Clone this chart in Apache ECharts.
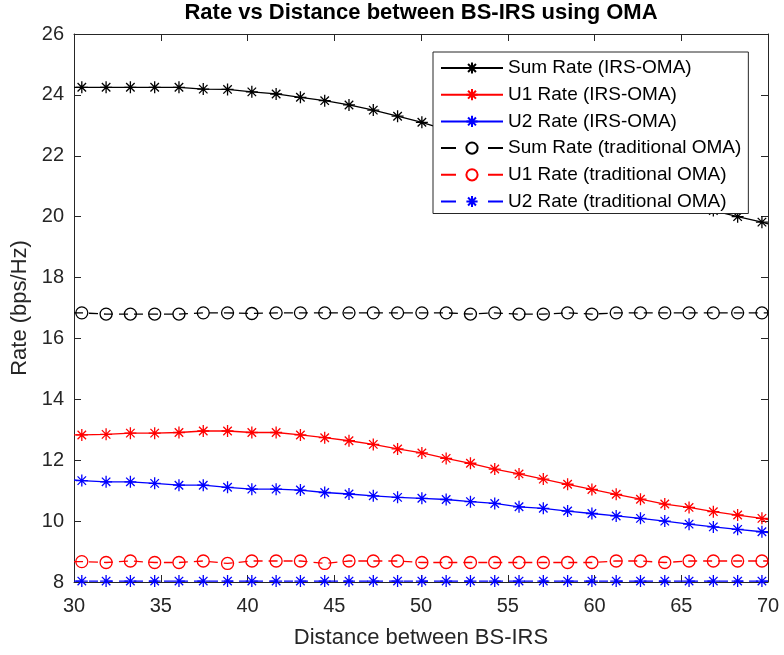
<!DOCTYPE html>
<html>
<head>
<meta charset="utf-8">
<script src="https://cdn.jsdelivr.net/npm/echarts@6/dist/echarts.min.js"></script>
<style>
  html, body { margin: 0; padding: 0; background: #fff; }
  #main { width: 784px; height: 655px; }
</style>
</head>
<body>
<div id="main"></div>
<script>
// distance between BS and IRS (first and last entries are the line ends, no marker there)
var distance = [30, 30.45, 31.85, 33.25, 34.65, 36.05, 37.45, 38.85, 40.25, 41.65, 43.05,
  44.45, 45.85, 47.25, 48.65, 50.05, 51.45, 52.85, 54.25, 55.65, 57.05,
  58.45, 59.85, 61.25, 62.65, 64.05, 65.45, 66.85, 68.25, 69.65, 70];

var sumIrs = [24.25, 24.25, 24.25, 24.25, 24.25, 24.25, 24.19, 24.18, 24.10, 24.03, 23.92,
  23.81, 23.67, 23.50, 23.30, 23.10, 22.85, 22.62, 22.37, 22.10, 21.88,
  21.62, 21.37, 21.13, 20.89, 20.64, 20.43, 20.20, 20.00, 19.82, 19.76];
var u1Irs = [12.83, 12.83, 12.85, 12.89, 12.89, 12.91, 12.96, 12.96, 12.91, 12.91, 12.83,
  12.74, 12.64, 12.52, 12.37, 12.24, 12.06, 11.90, 11.71, 11.55, 11.38,
  11.21, 11.04, 10.88, 10.72, 10.56, 10.45, 10.31, 10.20, 10.09, 10.05];
var u2Irs = [11.35, 11.33, 11.29, 11.29, 11.24, 11.18, 11.18, 11.11, 11.05, 11.05, 11.02,
  10.94, 10.89, 10.83, 10.78, 10.75, 10.71, 10.64, 10.58, 10.47, 10.42,
  10.33, 10.25, 10.17, 10.09, 10.00, 9.90, 9.81, 9.73, 9.65, 9.62];
var sumTrad = [16.84, 16.84, 16.80, 16.80, 16.80, 16.80, 16.84, 16.84, 16.82, 16.84, 16.84,
  16.84, 16.84, 16.84, 16.84, 16.84, 16.84, 16.80, 16.84, 16.80, 16.80,
  16.84, 16.80, 16.84, 16.84, 16.84, 16.84, 16.84, 16.84, 16.84, 16.84];
var u1Trad = [8.67, 8.67, 8.64, 8.69, 8.64, 8.64, 8.69, 8.61, 8.69, 8.69, 8.69,
  8.61, 8.69, 8.69, 8.69, 8.64, 8.64, 8.64, 8.64, 8.64, 8.64,
  8.64, 8.64, 8.69, 8.69, 8.64, 8.69, 8.69, 8.69, 8.69, 8.69];
var u2Trad = [8.03, 8.03, 8.03, 8.03, 8.03, 8.03, 8.03, 8.03, 8.03, 8.03, 8.03,
  8.03, 8.03, 8.03, 8.03, 8.03, 8.03, 8.03, 8.03, 8.03, 8.03,
  8.03, 8.03, 8.03, 8.03, 8.03, 8.03, 8.03, 8.03, 8.03, 8.03];

var names = ['Sum Rate (IRS-OMA)', 'U1 Rate (IRS-OMA)', 'U2 Rate (IRS-OMA)',
  'Sum Rate (traditional OMA)', 'U1 Rate (traditional OMA)', 'U2 Rate (traditional OMA)'];

var ASTERISK = 'path://M0,-10L0,10M-10,0L10,0M-7.07,-7.07L7.07,7.07M-7.07,7.07L7.07,-7.07';
var CIRCLE = 'path://M10,0A10,10,0,1,1,-10,0A10,10,0,1,1,10,0Z';
var FONT = 'Liberation Sans';
var AXIS_COLOR = '#262626';

function toPoints(vals) {
  return vals.map(function (v, i) {
    var item = { value: [distance[i], v] };
    if (i === 0 || i === vals.length - 1) item.symbol = 'none';
    return item;
  });
}

function makeSeries(name, vals, color, marker, dashed) {
  return {
    name: name,
    type: 'line',
    data: toPoints(vals),
    symbol: marker,
    symbolSize: marker === CIRCLE ? 12 : 12,
    showAllSymbol: true,
    animation: false,
    lineStyle: { color: color, width: 1.3, type: dashed ? [9, 6] : 'solid' },
    itemStyle: { color: 'none', borderColor: color, borderWidth: 1.3 }
  };
}

var myChart = echarts.init(document.getElementById('main'));

var option = {
  backgroundColor: '#fff',
  animation: false,
  title: {
    text: 'Rate vs Distance between BS-IRS using OMA',
    left: 416,
    top: -3,
    textAlign: 'center',
    textStyle: { fontFamily: FONT, fontSize: 22, fontWeight: 'bold', color: '#000' }
  },
  legend: {
    orient: 'vertical',
    left: 433,
    top: 52,
    padding: [6, 7, 2, 7],
    itemWidth: 62,
    itemHeight: 14,
    itemGap: 6.7,
    backgroundColor: '#fff',
    borderColor: AXIS_COLOR,
    borderWidth: 1,
    textStyle: { fontFamily: FONT, fontSize: 19, color: '#000', lineHeight: 20 },
    data: names.map(function (n, i) {
      var d = { name: n };
      if (i >= 3) d.lineStyle = { type: [15, 32] };
      return d;
    })
  },
  grid: { left: 74, right: 16, top: 34, bottom: 73 },
  xAxis: [{
    type: 'value', min: 30, max: 70, interval: 5,
    name: 'Distance between BS-IRS', nameLocation: 'middle', nameGap: 45,
    nameTextStyle: { fontFamily: FONT, fontSize: 22, color: AXIS_COLOR },
    axisLine: { lineStyle: { color: AXIS_COLOR, width: 1 } },
    axisTick: { inside: true, length: 7, lineStyle: { color: AXIS_COLOR } },
    axisLabel: { fontFamily: FONT, fontSize: 20, color: AXIS_COLOR, margin: 14 },
    splitLine: { show: false }
  }, {
    type: 'value', position: 'top', min: 30, max: 70, interval: 5,
    axisLine: { lineStyle: { color: AXIS_COLOR, width: 1 } },
    axisTick: { inside: true, length: 7, lineStyle: { color: AXIS_COLOR } },
    axisLabel: { show: false },
    splitLine: { show: false }
  }],
  yAxis: [{
    type: 'value', min: 8, max: 26, interval: 2,
    name: 'Rate (bps/Hz)', nameLocation: 'middle', nameGap: 43,
    nameTextStyle: { fontFamily: FONT, fontSize: 22, color: AXIS_COLOR },
    axisLine: { show: true, lineStyle: { color: AXIS_COLOR, width: 1 } },
    axisTick: { show: true, inside: true, length: 7, lineStyle: { color: AXIS_COLOR } },
    axisLabel: { fontFamily: FONT, fontSize: 20, color: AXIS_COLOR, margin: 10 },
    splitLine: { show: false }
  }, {
    type: 'value', position: 'right', min: 8, max: 26, interval: 2,
    axisLine: { show: true, lineStyle: { color: AXIS_COLOR, width: 1 } },
    axisTick: { show: true, inside: true, length: 7, lineStyle: { color: AXIS_COLOR } },
    axisLabel: { show: false },
    splitLine: { show: false }
  }],
  series: [
    makeSeries(names[0], sumIrs, '#000000', ASTERISK, false),
    makeSeries(names[1], u1Irs, '#ff0000', ASTERISK, false),
    makeSeries(names[2], u2Irs, '#0000ff', ASTERISK, false),
    makeSeries(names[3], sumTrad, '#000000', CIRCLE, true),
    makeSeries(names[4], u1Trad, '#ff0000', CIRCLE, true),
    makeSeries(names[5], u2Trad, '#0000ff', ASTERISK, true)
  ]
};

myChart.setOption(option);
</script>
</body>
</html>
